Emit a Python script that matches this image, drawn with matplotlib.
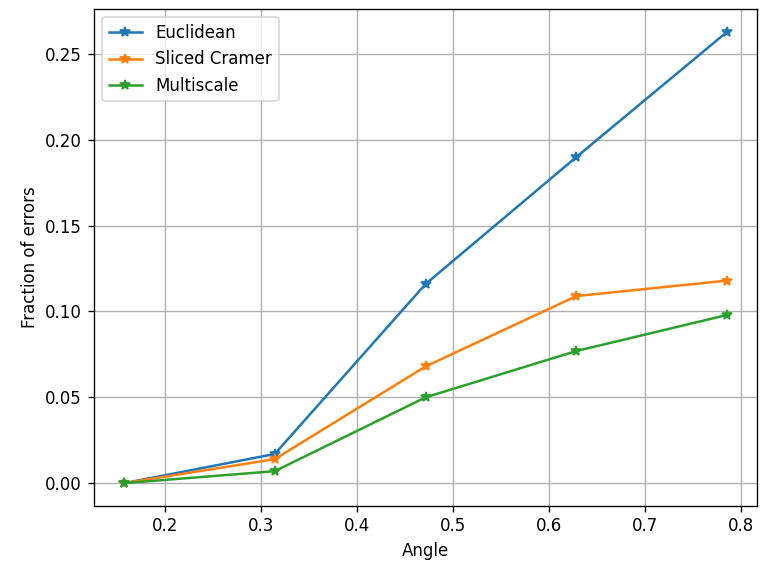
import matplotlib.pyplot as plt
import numpy as np

angles = [np.pi / 20, np.pi / 10, 3 * np.pi / 20, np.pi / 5, np.pi / 4]
euclidean = [0.0, 0.017, 0.116, 0.190, 0.263]
sliced_cramer = [0.0, 0.014, 0.068, 0.109, 0.118]
multiscale = [0.0, 0.007, 0.050, 0.077, 0.098]

fig, ax = plt.subplots(figsize=(762 / 120, 567 / 120), dpi=120)
ax.plot(angles, euclidean, marker='*', label='Euclidean')
ax.plot(angles, sliced_cramer, marker='*', label='Sliced Cramer')
ax.plot(angles, multiscale, marker='*', label='Multiscale')
ax.set_xlabel('Angle')
ax.set_ylabel('Fraction of errors')
ax.grid(True)
ax.legend(loc='upper left')
plt.subplots_adjust(left=0.123, right=0.994, top=0.984, bottom=0.108)
plt.savefig('out.png')
